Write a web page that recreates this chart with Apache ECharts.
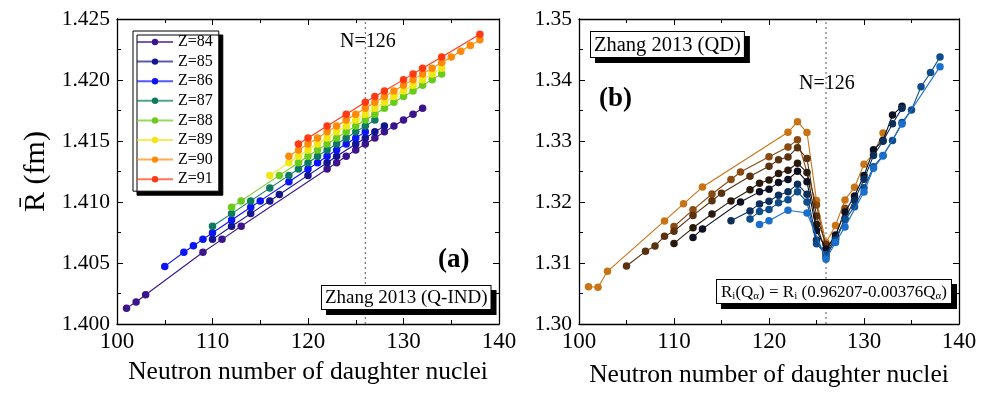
<!DOCTYPE html>
<html><head><meta charset="utf-8">
<script src="https://cdn.jsdelivr.net/npm/echarts@6/dist/echarts.min.js"></script>
<style>html,body{margin:0;padding:0;background:#fff}#c{width:991px;height:394px}</style>
</head><body><div id="c"></div>
<script>
// ---- categories ----
const zLabels = ['Z=84','Z=85','Z=86','Z=87','Z=88','Z=89','Z=90','Z=91'];

// ---- neutron numbers of daughter nuclei, per Z ----
const n84 = [101,102,103,109,111,113,122,123,124,125,126,127,128,129,130,131,132];
const n85 = [110,112,114,116,117,120,122,123,125,126,127,128];
const n86 = [105,107,108,109,110,112,114,115,118,120,121,122,123,124,125,126];
const n87 = [110,112,114,116,118,119,120,121,122,123,124,125,126,127];
const n88 = [112,113,117,119,120,121,122,123,124,125,126,127,128,129,130,131,132,133,134];
const n89 = [116,118,119,120,121,122,123,124,125,126,127,128,129,130,131,132,133,134];
const n90 = [118,119,120,121,122,123,124,125,126,127,128,129,130,131,132,133,134,135,136,137,138];
const n91 = [119,120,122,124,126,127,128,130,131,132,134,138];

// ---- panel (a): Zhang 2013 (Q-IND), R (fm) ----
const a84 = [1.40130,1.40180,1.40240,1.40588,1.40694,1.40801,1.41271,1.41322,1.41375,1.41427,1.41476,1.41525,1.41575,1.41623,1.41672,1.41719,1.41768];
const a85 = [1.40694,1.40801,1.40905,1.41009,1.41062,1.41218,1.41322,1.41375,1.41476,1.41525,1.41575,1.41623];
const a86 = [1.40472,1.40588,1.40641,1.40694,1.40748,1.40853,1.40957,1.41009,1.41166,1.41271,1.41322,1.41375,1.41427,1.41476,1.41525,1.41575];
const a87 = [1.40801,1.40905,1.41009,1.41114,1.41218,1.41271,1.41322,1.41375,1.41427,1.41476,1.41525,1.41575,1.41623,1.41672];
const a88 = [1.40957,1.41009,1.41218,1.41322,1.41375,1.41427,1.41476,1.41525,1.41575,1.41623,1.41672,1.41719,1.41768,1.41817,1.41864,1.41910,1.41957,1.42003,1.42050];
const a89 = [1.41218,1.41322,1.41375,1.41427,1.41476,1.41525,1.41575,1.41623,1.41672,1.41719,1.41768,1.41817,1.41864,1.41910,1.41957,1.42003,1.42050,1.42096];
const a90 = [1.41375,1.41427,1.41476,1.41525,1.41575,1.41623,1.41672,1.41719,1.41768,1.41817,1.41864,1.41910,1.41957,1.42003,1.42050,1.42096,1.42143,1.42189,1.42236,1.42282,1.42329];
const a91 = [1.41476,1.41525,1.41623,1.41719,1.41817,1.41864,1.41910,1.42003,1.42050,1.42096,1.42189,1.42375];

// ---- panel (b): Zhang 2013 (QD), R (fm) ----
const b84 = [1.30611,1.30603,1.30864,1.31690,1.31970,1.32245,1.33142,1.33316,1.33139,1.32023,1.31330,1.31615,1.32034,1.32243,1.32619,1.32794,1.33132];
const b85 = [1.31598,1.31872,1.32131,1.32368,1.32492,1.32743,1.32903,1.33019,1.31952,1.31233,1.31421,1.31896];
const b86 = [1.30950,1.31191,1.31279,1.31438,1.31520,1.31780,1.32020,1.32145,1.32423,1.32587,1.32691,1.32739,1.32891,1.32713,1.31770,1.31303];
const b87 = [1.31321,1.31577,1.31804,1.32018,1.32201,1.32309,1.32361,1.32466,1.32521,1.32637,1.32483,1.31633,1.31171,1.31411];
const b88 = [1.31420,1.31559,1.32001,1.32166,1.32211,1.32318,1.32369,1.32506,1.32333,1.31531,1.31224,1.31461,1.31836,1.32098,1.32433,1.32856,1.33008,1.33425,1.33570];
const b89 = [1.31694,1.31854,1.31969,1.32011,1.32110,1.32167,1.32292,1.32127,1.31379,1.31104,1.31391,1.31731,1.32030,1.32371,1.32763,1.32995,1.33283,1.33535];
const b90 = [1.31723,1.31843,1.31877,1.31986,1.32038,1.32170,1.31999,1.31315,1.31141,1.31366,1.31708,1.31924,1.32235,1.32577,1.32764,1.33009,1.33303,1.33510,1.33890,1.34121,1.34378];
const b91 = [1.31631,1.31692,1.31864,1.31820,1.31063,1.31336,1.31592,1.32164,1.32553,1.32753,1.33278,1.34219];

const nSets = [n84,n85,n86,n87,n88,n89,n90,n91];
const aSets = [a84,a85,a86,a87,a88,a89,a90,a91];
const bSets = [b84,b85,b86,b87,b88,b89,b90,b91];

const aColors = ['#3c148c','#14148c','#0a14f5','#0c7a5e','#6acb1a','#f2e614','#ff8a0a','#ff3a12'];
const bColors = ['#c87414','#8a4a12','#5a3210','#2a1a0c','#0c1020','#0c2e5a','#0f4c8c','#1a6ecc'];

const FONT = '"Liberation Serif", "Times New Roman", serif';
const chart = echarts.init(document.getElementById('c'), null, {renderer:'canvas'});

const tickCommon = {
  axisLine:{show:true,onZero:false,lineStyle:{color:'#000',width:1.3}},
  axisTick:{show:true,inside:true,length:6,lineStyle:{color:'#000'}},
  minorTick:{show:true,splitNumber:2,length:4,lineStyle:{color:'#000'}},
  splitLine:{show:false}
};
function xAxisDef(gi){ return Object.assign({
  type:'value', gridIndex:gi, min:100, max:140, interval:10,
  axisLabel:{color:'#000',fontFamily:FONT,fontSize:23,margin:6},
  name:'Neutron number of daughter nuclei', nameLocation:'middle', nameGap: gi===0?35:38,
  nameTextStyle:{color:'#000',fontFamily:FONT,fontSize:25.5}
}, tickCommon);}
function xTop(gi){ return Object.assign({type:'value',gridIndex:gi,position:'top',min:100,max:140,interval:10,
  axisLabel:{show:false}}, tickCommon);}
function yAxisDef(gi,min,max,itv,dec,name){ return Object.assign({
  type:'value', gridIndex:gi, min:min, max:max, interval:itv,
  axisLabel:{color:'#000',fontFamily:FONT,fontSize:21.5,margin:7,formatter:v=>v.toFixed(dec)},
  name:name, nameLocation:'middle', nameGap:66, nameRotate:90,
  nameTextStyle:{color:'#000',fontFamily:FONT,fontSize:30}
}, tickCommon);}
function yRight(gi,min,max,itv){ return Object.assign({type:'value',gridIndex:gi,position:'right',min:min,max:max,interval:itv,
  axisLabel:{show:false}}, tickCommon);}

const series = [];
nSets.forEach((ns,i)=>{
  series.push({name:zLabels[i],type:'line',xAxisIndex:0,yAxisIndex:0,
    data:ns.map((n,k)=>[n,aSets[i][k]]),symbol:'circle',symbolSize:7.5,
    lineStyle:{color:aColors[i],width:1.1},itemStyle:{color:aColors[i]},z:2+i});
});
nSets.forEach((ns,i)=>{
  series.push({name:'b'+zLabels[i],type:'line',xAxisIndex:2,yAxisIndex:2,
    data:ns.map((n,k)=>[n,bSets[i][k]]),symbol:'circle',symbolSize:7.5,
    lineStyle:{color:bColors[i],width:1.1},itemStyle:{color:bColors[i]},z:2+i});
});
// N=126 dotted markers
series.push({type:'line',xAxisIndex:0,yAxisIndex:0,data:[[126,1.400],[126,1.425]],symbol:'none',
  lineStyle:{color:'#555',width:1,type:[2,3]},z:1,silent:true});
series.push({type:'line',xAxisIndex:2,yAxisIndex:2,data:[[126,1.30],[126,1.35]],symbol:'none',
  lineStyle:{color:'#555',width:1,type:[2,3]},z:1,silent:true});

function boxText(x,y,txt,fs){
  return {type:'text',left:x,top:y,z:100,style:{text:txt,fontFamily:FONT,fontSize:fs,fill:'#000',
    backgroundColor:'#fff',borderColor:'#000',borderWidth:1,padding:[3,3,1,3],
    shadowColor:'#000',shadowOffsetX:5,shadowOffsetY:5,shadowBlur:0}};
}

chart.setOption({
  animation:false,
  grid:[{left:117,top:19,width:382,height:305},{left:579,top:19,width:380,height:305}],
  xAxis:[xAxisDef(0),xTop(0),xAxisDef(1),xTop(1)],
  yAxis:[yAxisDef(0,1.400,1.425,0.005,3,'R\u0304 (fm)'),yRight(0,1.400,1.425,0.005),
         yAxisDef(1,1.30,1.35,0.01,2,''),yRight(1,1.30,1.35,0.01)],
  legend:{data:zLabels,left:133,top:31,orient:'vertical',itemGap:1.6,itemWidth:36,itemHeight:8,
    textStyle:{fontFamily:FONT,fontSize:16,color:'#000',lineHeight:18},
    lineStyle:{width:2,opacity:0.7},
    backgroundColor:'#fff',borderColor:'#000',borderWidth:1,padding:[2,6,3,3],
    shadowColor:'#000',shadowOffsetX:4,shadowOffsetY:4,shadowBlur:0},
  series:series,
  graphic:[
    boxText(321,285,'Zhang 2013 (Q-IND)',19),
    boxText(590,31,'Zhang 2013 (QD)',20.5),
    {type:'text',left:438,top:247,style:{text:'(a)',fontFamily:FONT,fontSize:27,fontWeight:'bold',fill:'#000'}},
    {type:'text',left:599,top:86,style:{text:'(b)',fontFamily:FONT,fontSize:27,fontWeight:'bold',fill:'#000'}},
    {type:'text',left:340,top:32,style:{text:'N=126',fontFamily:FONT,fontSize:20,fill:'#000'}},
    {type:'text',left:799,top:74,style:{text:'N=126',fontFamily:FONT,fontSize:20,fill:'#000'}},
    {type:'text',left:716,top:279,z:100,style:{rich:{
        n:{fontFamily:FONT,fontSize:17,fill:'#000'},
        s:{fontFamily:FONT,fontSize:11,fill:'#000',verticalAlign:'bottom',padding:[8,0,0,0]}},
      text:'{n|R}{s|i}{n|(Q}{s|α}{n|) = R}{s|i}{n| (0.96207-0.00376Q}{s|α}{n|)}',
      backgroundColor:'#fff',borderColor:'#000',borderWidth:1,padding:[3,4,1,4],
      shadowColor:'#000',shadowOffsetX:5,shadowOffsetY:5,shadowBlur:0}}
  ]
});
</script></body></html>
